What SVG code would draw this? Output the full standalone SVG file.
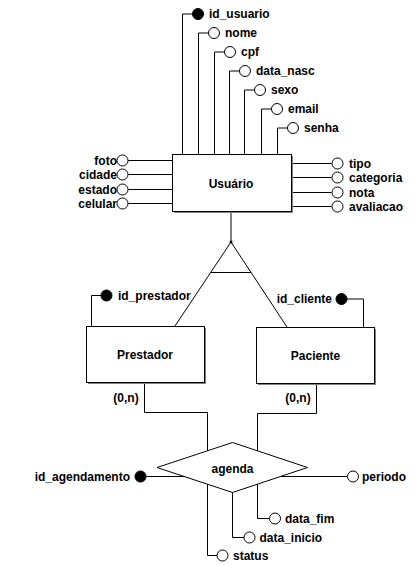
<svg xmlns="http://www.w3.org/2000/svg" width="416" height="566" viewBox="0 0 416 566">
<style>
text{font-family:"Liberation Sans",Arial,Helvetica,sans-serif;font-weight:bold;font-size:12px;fill:#000}
.c{fill:none;stroke:#000;stroke-width:1}
.att{fill:#fff;stroke:#000;stroke-width:1}
.key{fill:#000;stroke:#000;stroke-width:1}
.ent{fill:#fff;stroke:#000;stroke-width:1}
.sh{fill:#808080}
.e{text-anchor:end}
.m{text-anchor:middle}
</style>
<rect width="416" height="566" fill="#fff"/>
<g id="connectors">
<polyline class="c" points="182.5,154 182.5,14 192.5,14"/>
<polyline class="c" points="198.5,154 198.5,33 208.5,33"/>
<polyline class="c" points="214.5,154 214.5,52 224.5,52"/>
<polyline class="c" points="229.5,154 229.5,71 239.5,71"/>
<polyline class="c" points="244.5,154 244.5,90 254.5,90"/>
<polyline class="c" points="261.5,154 261.5,109 271.5,109"/>
<polyline class="c" points="277.5,154 277.5,128 287.5,128"/>
<line class="c" x1="128" y1="160.5" x2="172" y2="160.5"/>
<line class="c" x1="128" y1="174.5" x2="172" y2="174.5"/>
<line class="c" x1="128" y1="189.5" x2="172" y2="189.5"/>
<line class="c" x1="128" y1="203.5" x2="172" y2="203.5"/>
<line class="c" x1="291" y1="163.5" x2="331.5" y2="163.5"/>
<line class="c" x1="291" y1="177.5" x2="331.5" y2="177.5"/>
<line class="c" x1="291" y1="192.5" x2="331.5" y2="192.5"/>
<line class="c" x1="291" y1="206.5" x2="331.5" y2="206.5"/>
<line class="c" x1="231" y1="211" x2="231" y2="242"/>
<line class="c" x1="231" y1="242" x2="175" y2="326"/>
<line class="c" x1="231" y1="242" x2="287" y2="327"/>
<line class="c" x1="211" y1="272.5" x2="251" y2="272.5"/>
<circle cx="231" cy="242" r="1.5" fill="#000"/>
<polyline class="c" points="101,295.5 91.5,295.5 91.5,326"/>
<polyline class="c" points="347,299 363.5,299 363.5,327"/>
<polyline class="c" points="144.5,382 144.5,412.5 207.5,412.5 207.5,467"/>
<polyline class="c" points="316.5,383 316.5,413.5 257.5,413.5 257.5,467"/>
<line class="c" x1="146" y1="476.5" x2="200" y2="476.5"/>
<line class="c" x1="265" y1="476.5" x2="347.5" y2="476.5"/>
<polyline class="c" points="257.5,467 257.5,518.5 269.5,518.5"/>
<polyline class="c" points="232.5,467 232.5,537.5 244,537.5"/>
<polyline class="c" points="207.5,467 207.5,555.5 217,555.5"/>
</g>
<g id="usuario">
<rect class="sh" x="174" y="156" width="119" height="57"/>
<rect class="ent" x="172.5" y="154.5" width="119" height="57"/>
<text class="m" x="231" y="188">Usuário</text>
</g>
<g id="prestador">
<rect class="sh" x="88" y="328" width="118" height="56"/>
<rect class="ent" x="86.5" y="326.5" width="118" height="56"/>
<text class="m" x="145" y="359">Prestador</text>
</g>
<g id="paciente">
<rect class="sh" x="258" y="329" width="118" height="56"/>
<rect class="ent" x="256.5" y="327.5" width="118" height="56"/>
<text class="m" x="315.5" y="360">Paciente</text>
</g>
<g id="agenda">
<polygon class="ent" points="157,467.5 232.5,442.5 307.5,467.5 232.5,492.5"/>
<text class="m" x="232.5" y="473">agenda</text>
</g>
<g id="attr-id_usuario"><circle class="key" cx="198" cy="14" r="5.5"/><text x="209" y="18">id_usuario</text></g>
<g id="attr-nome"><circle class="att" cx="214" cy="33" r="5.5"/><text x="225" y="37">nome</text></g>
<g id="attr-cpf"><circle class="att" cx="230" cy="52" r="5.5"/><text x="241" y="56">cpf</text></g>
<g id="attr-data_nasc"><circle class="att" cx="245" cy="71" r="5.5"/><text x="256" y="75">data_nasc</text></g>
<g id="attr-sexo"><circle class="att" cx="260" cy="90" r="5.5"/><text x="271" y="94">sexo</text></g>
<g id="attr-email"><circle class="att" cx="277" cy="109" r="5.5"/><text x="288" y="113">email</text></g>
<g id="attr-senha"><circle class="att" cx="293" cy="128" r="5.5"/><text x="304" y="132">senha</text></g>
<g id="attr-foto"><circle class="att" cx="122.5" cy="160.5" r="5.5"/><text class="e" x="117" y="164.5">foto</text></g>
<g id="attr-cidade"><circle class="att" cx="122.5" cy="174.5" r="5.5"/><text class="e" x="117" y="178.5">cidade</text></g>
<g id="attr-estado"><circle class="att" cx="122.5" cy="189.5" r="5.5"/><text class="e" x="117" y="193.5">estado</text></g>
<g id="attr-celular"><circle class="att" cx="122.5" cy="203.5" r="5.5"/><text class="e" x="117" y="207.5">celular</text></g>
<g id="attr-tipo"><circle class="att" cx="337.5" cy="163.5" r="5.5"/><text x="349" y="167.5">tipo</text></g>
<g id="attr-categoria"><circle class="att" cx="337.5" cy="177.5" r="5.5"/><text x="349" y="181.5">categoria</text></g>
<g id="attr-nota"><circle class="att" cx="337.5" cy="192.5" r="5.5"/><text x="349" y="196.5">nota</text></g>
<g id="attr-avaliacao"><circle class="att" cx="337.5" cy="206.5" r="5.5"/><text x="349" y="210.5">avaliacao</text></g>
<g id="attr-id_prestador"><circle class="key" cx="106.5" cy="295.5" r="5.5"/><text x="118" y="299.5">id_prestador</text></g>
<g id="attr-id_cliente"><circle class="key" cx="341.5" cy="299" r="5.5"/><text class="e" x="332" y="303">id_cliente</text></g>
<g id="card-prestador"><text class="m" x="126" y="402">(0,n)</text></g>
<g id="card-paciente"><text class="m" x="298" y="402">(0,n)</text></g>
<g id="attr-id_agendamento"><circle class="key" cx="140.5" cy="476.5" r="5.5"/><text class="e" x="130" y="480.5">id_agendamento</text></g>
<g id="attr-periodo"><circle class="att" cx="353" cy="476.5" r="5.5"/><text x="362" y="480.5">periodo</text></g>
<g id="attr-data_fim"><circle class="att" cx="275" cy="518.5" r="5.5"/><text x="285" y="522.5">data_fim</text></g>
<g id="attr-data_inicio"><circle class="att" cx="249.5" cy="537.5" r="5.5"/><text x="259.5" y="541.5">data_inicio</text></g>
<g id="attr-status"><circle class="att" cx="222.5" cy="555.5" r="5.5"/><text x="233" y="559.5">status</text></g>
</svg>
